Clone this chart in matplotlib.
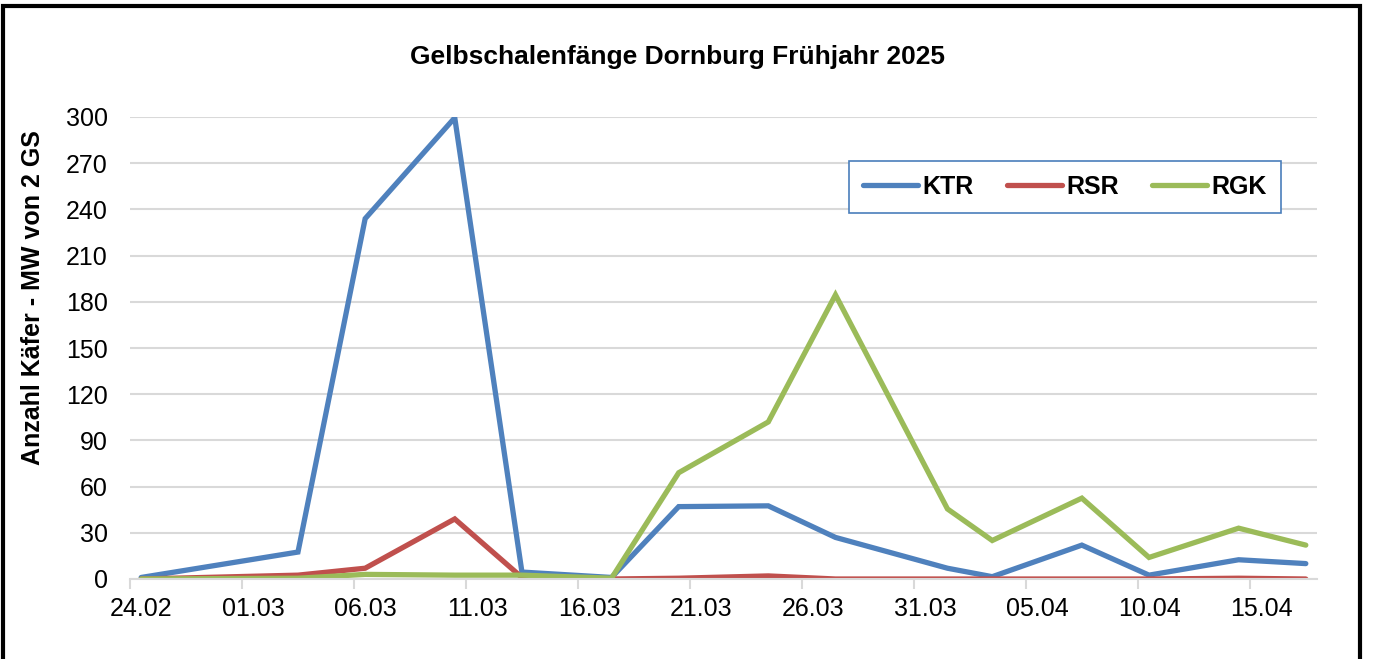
import numpy as np
import matplotlib
matplotlib.use("Agg")
import matplotlib.pyplot as plt
import matplotlib.dates as mdates
from matplotlib.patches import Rectangle

plt.rcParams['font.family'] = ['Liberation Sans', 'DejaVu Sans']

# Fangtermine (Leerung der Gelbschalen)
dates = np.array(['2025-02-24', '2025-03-03', '2025-03-06', '2025-03-10', '2025-03-13',
                  '2025-03-17', '2025-03-20', '2025-03-24', '2025-03-27', '2025-04-01',
                  '2025-04-03', '2025-04-07', '2025-04-10', '2025-04-14', '2025-04-17'],
                 dtype='datetime64[D]')

ktr = [1, 17.5, 234, 299.5, 4.5, 1, 47, 47.5, 27, 7, 1.5, 22, 2.5, 12.5, 10]
rsr = [0, 2.5, 7, 39, 1, 0, 0.5, 2, 0, 0, 0, 0, 0, 0.5, 0]
rgk = [0, 0.5, 3, 2.5, 2.5, 0.5, 69, 102, 184.5, 45.5, 25, 52.5, 14, 33, 22]

series_names = ['KTR', 'RSR', 'RGK']
colors = ['#4F81BD', '#C0504D', '#9BBB59']

x_start = np.datetime64('2025-02-24')
x_end = np.datetime64('2025-04-18')
tick_dates = np.arange(x_start, x_end, np.timedelta64(5, 'D'))
half_day = np.timedelta64(12, 'h')


def to_dt(d):
    return d.astype('datetime64[s]').astype(object)


fig = plt.figure(figsize=(13.74, 6.59), dpi=100)
ax = fig.add_axes([130 / 1374, 1 - 579 / 659, 1187 / 1374, 462 / 659])

# Excel-Datumsachse: Punkte in der Mitte des Tages
xpos = dates.astype('datetime64[h]') + half_day
for vals, name, c in zip([ktr, rsr, rgk], series_names, colors):
    ax.plot(to_dt(xpos), vals, color=c, lw=3.8, label=name,
            solid_joinstyle='miter', solid_capstyle='round')

ax.set_xlim(to_dt(x_start), to_dt(x_end))
ax.set_ylim(0, 300)
ax.set_yticks(np.arange(0, 301, 30))

# Striche an den Tagesgrenzen, Beschriftung in der Tagesmitte
ax.set_xticks(to_dt(tick_dates))
ax.xaxis.set_major_formatter(plt.NullFormatter())
ax.set_xticks(to_dt(tick_dates.astype('datetime64[h]') + half_day), minor=True)
ax.xaxis.set_minor_formatter(mdates.DateFormatter('%d.%m'))

ax.grid(axis='y', color='#D9D9D9', lw=1.5)
ax.set_axisbelow(True)
for s in ['top', 'right', 'left']:
    ax.spines[s].set_visible(False)
ax.spines['bottom'].set_color('#D9D9D9')
ax.spines['bottom'].set_linewidth(1.5)
ax.tick_params(axis='x', which='major', colors='#D9D9D9', length=7, width=1.5)
ax.tick_params(axis='x', which='minor', length=0, labelsize=18, pad=13)
ax.tick_params(axis='y', length=0, labelsize=18, pad=16)

fig.text(677 / 1374, 1 - 57 / 659, 'Gelbschalenfänge Dornburg Frühjahr 2025',
         ha='center', va='center', fontsize=19, fontweight='bold')
fig.text(33 / 1374, 1 - 298 / 659, 'Anzahl Käfer - MW von 2 GS', rotation=90,
         ha='center', va='center', fontsize=18, fontweight='bold')

leg = ax.legend(loc='center', bbox_to_anchor=(1065 / 1374, 1 - 187 / 659),
                bbox_transform=fig.transFigure, ncol=3, fancybox=False,
                edgecolor='#4A7EBB', framealpha=1, handlelength=2.2,
                handletextpad=0.2, columnspacing=1.3, borderpad=0.55,
                prop={'weight': 'bold', 'size': 18})
leg.get_frame().set_linewidth(1.2)

fig.patches.append(Rectangle((3 / 1374, -0.1), 1357 / 1374, 1.1 - 6 / 659,
                             transform=fig.transFigure, fill=False,
                             edgecolor='black', lw=3, clip_on=False))

fig.savefig('out.png', dpi=100)
